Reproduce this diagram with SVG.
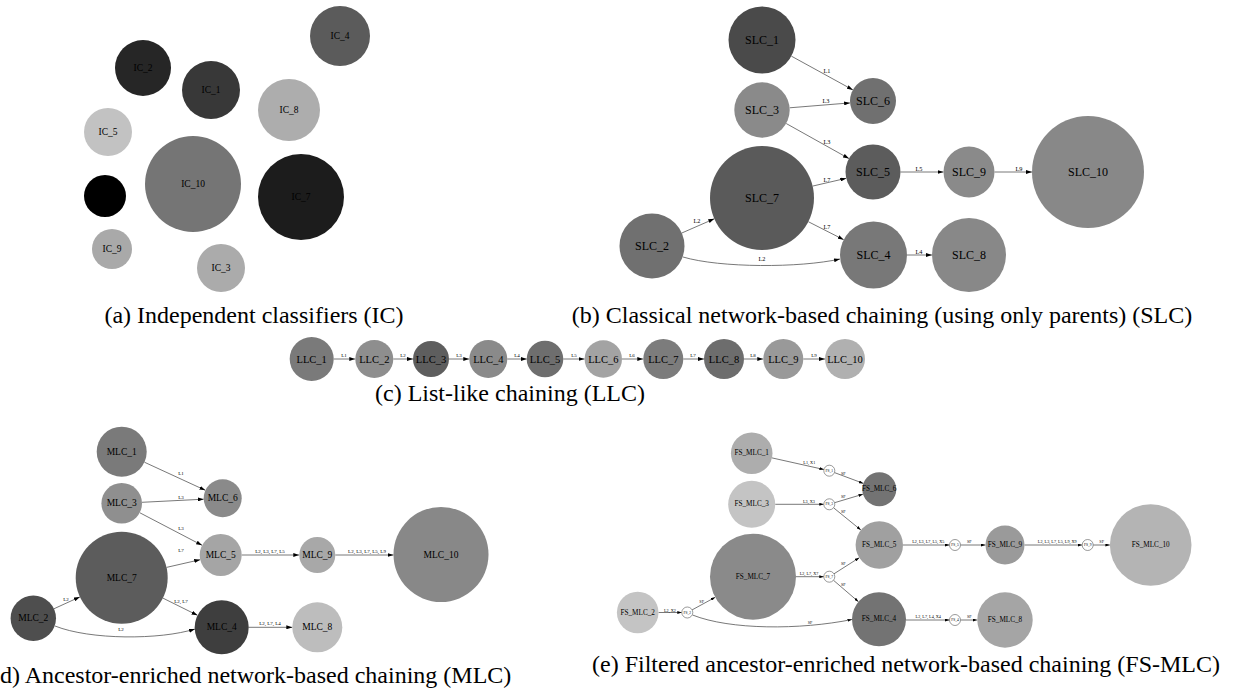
<svg xmlns="http://www.w3.org/2000/svg" width="1235" height="698" viewBox="0 0 1235 698">
  <style>
    text { font-family: "Liberation Serif", "Times New Roman", serif; fill: #000; }
    .cap { font-size: 24px; }
    .ic { font-size: 9.5px; text-anchor: middle; dominant-baseline: central; }
    .slc { font-size: 12px; text-anchor: middle; dominant-baseline: central; }
    .llc { font-size: 10.5px; text-anchor: middle; dominant-baseline: central; }
    .mlc { font-size: 9.5px; text-anchor: middle; dominant-baseline: central; }
    .fs { font-size: 7.2px; text-anchor: middle; dominant-baseline: central; }
    .fsc { font-size: 3.6px; text-anchor: middle; dominant-baseline: central; }
    .el { font-size: 6.3px; text-anchor: middle; dominant-baseline: central; }
    .els { font-size: 5px; text-anchor: middle; dominant-baseline: central; }
    .elt { font-size: 4.2px; text-anchor: middle; dominant-baseline: central; }
    .e { fill: none; stroke: #555; stroke-width: 0.8; }
    .a { marker-end: url(#arr); }
    .as { marker-end: url(#arrs); }
    .filt { fill: #fff; stroke: #555; stroke-width: 0.6; }
  </style>
  <defs>
    <marker id="arr" markerUnits="userSpaceOnUse" markerWidth="6" markerHeight="4" refX="6" refY="2" orient="auto">
      <path d="M0,0 L6,2 L0,4 z" fill="#000"/>
    </marker>
    <marker id="arrs" markerUnits="userSpaceOnUse" markerWidth="4.5" markerHeight="3" refX="4.5" refY="1.5" orient="auto">
      <path d="M0,0 L4.5,1.5 L0,3 z" fill="#000"/>
    </marker>
  </defs>
  <rect width="1235" height="698" fill="#fff"/>

  <!-- (a) independent classifiers -->
  <g id="ic">
    <g id="IC_4"><circle cx="340" cy="36" r="30" fill="#5b5b5b"/><text class="ic" x="340" y="36">IC_4</text></g>
    <g id="IC_2"><circle cx="143" cy="68" r="28" fill="#262626"/><text class="ic" x="143" y="68">IC_2</text></g>
    <g id="IC_1"><circle cx="211" cy="90" r="29" fill="#383838"/><text class="ic" x="211" y="90">IC_1</text></g>
    <g id="IC_8"><circle cx="289" cy="110" r="31" fill="#adadad"/><text class="ic" x="289" y="110">IC_8</text></g>
    <g id="IC_5"><circle cx="108" cy="132" r="24" fill="#c2c2c2"/><text class="ic" x="108" y="132">IC_5</text></g>
    <g id="IC_10"><circle cx="193" cy="184" r="48" fill="#757575"/><text class="ic" x="193" y="184">IC_10</text></g>
    <g id="IC_7"><circle cx="301" cy="197" r="43" fill="#1c1c1c"/><text class="ic" x="301" y="197">IC_7</text></g>
    <g id="IC_6"><circle cx="105" cy="196" r="21" fill="#000"/><text class="ic" x="105" y="196">IC_6</text></g>
    <g id="IC_9"><circle cx="112" cy="249" r="20" fill="#a9a9a9"/><text class="ic" x="112" y="249">IC_9</text></g>
    <g id="IC_3"><circle cx="221" cy="268" r="24" fill="#ababab"/><text class="ic" x="221" y="268">IC_3</text></g>
  </g>
  <text class="cap" x="254" y="323" text-anchor="middle">(a) Independent classifiers (IC)</text>

  <!-- (b) classical chaining -->
  <g id="slc-edges">
    <line class="e a" x1="791.3" y1="56.1" x2="852.9" y2="89.9"/>
    <line class="e a" x1="789.6" y1="107.8" x2="850.1" y2="102.9"/>
    <line class="e a" x1="786.2" y1="123.5" x2="849" y2="158.6"/>
    <line class="e a" x1="812.6" y1="186.1" x2="846.2" y2="178.3"/>
    <line class="e a" x1="808.3" y1="221.7" x2="843.7" y2="239.7"/>
    <line class="e a" x1="681.8" y1="233" x2="714.3" y2="218.8"/>
    <path class="e a" d="M683,257 C720,268 800,268 840,259"/>
    <line class="e a" x1="900.5" y1="172" x2="943.5" y2="172"/>
    <line class="e a" x1="994.5" y1="172" x2="1032" y2="172"/>
    <line class="e a" x1="907" y1="255" x2="932" y2="255"/>
    <text class="el" x="827" y="70">L1</text>
    <text class="el" x="826" y="100">L3</text>
    <text class="el" x="827" y="141">L3</text>
    <text class="el" x="827" y="179">L7</text>
    <text class="el" x="827" y="226">L7</text>
    <text class="el" x="697" y="220">L2</text>
    <text class="el" x="762" y="258">L2</text>
    <text class="el" x="919" y="168">L5</text>
    <text class="el" x="1019" y="168">L9</text>
    <text class="el" x="919" y="251">L4</text>
  </g>
  <g id="SLC_1"><circle cx="762" cy="40" r="33.5" fill="#4a4a4a"/><text class="slc" x="762" y="40">SLC_1</text></g>
  <g id="SLC_6"><circle cx="873" cy="101" r="23" fill="#707070"/><text class="slc" x="873" y="101">SLC_6</text></g>
  <g id="SLC_3"><circle cx="762" cy="110" r="27.7" fill="#8a8a8a"/><text class="slc" x="762" y="110">SLC_3</text></g>
  <g id="SLC_5"><circle cx="873" cy="172" r="27.5" fill="#5c5c5c"/><text class="slc" x="873" y="172">SLC_5</text></g>
  <g id="SLC_7"><circle cx="762" cy="198" r="52" fill="#5a5a5a"/><text class="slc" x="762" y="198">SLC_7</text></g>
  <g id="SLC_2"><circle cx="652" cy="246" r="32.5" fill="#707070"/><text class="slc" x="652" y="246">SLC_2</text></g>
  <g id="SLC_4"><circle cx="873.5" cy="255" r="33.5" fill="#787878"/><text class="slc" x="873.5" y="255">SLC_4</text></g>
  <g id="SLC_9"><circle cx="969" cy="172" r="25.5" fill="#8a8a8a"/><text class="slc" x="969" y="172">SLC_9</text></g>
  <g id="SLC_10"><circle cx="1088" cy="172" r="56" fill="#888"/><text class="slc" x="1088" y="172">SLC_10</text></g>
  <g id="SLC_8"><circle cx="969" cy="255" r="37" fill="#888"/><text class="slc" x="969" y="255">SLC_8</text></g>
  <text class="cap" x="882" y="323" text-anchor="middle">(b) Classical network-based chaining (using only parents) (SLC)</text>

  <!-- (c) list-like chaining -->
  <g id="llc-edges">
    <line class="e a" x1="333.7" y1="359" x2="355.3" y2="359"/>
    <line class="e a" x1="393.3" y1="359" x2="413" y2="359"/>
    <line class="e a" x1="449" y1="359" x2="469.3" y2="359"/>
    <line class="e a" x1="507.3" y1="359" x2="526.7" y2="359"/>
    <line class="e a" x1="563.3" y1="359" x2="584.6" y2="359"/>
    <line class="e a" x1="622" y1="359" x2="643.3" y2="359"/>
    <line class="e a" x1="683.3" y1="359" x2="704" y2="359"/>
    <line class="e a" x1="744" y1="359" x2="763.3" y2="359"/>
    <line class="e a" x1="803.3" y1="359" x2="825" y2="359"/>
    <text class="els" x="344" y="355">L1</text>
    <text class="els" x="403" y="355">L2</text>
    <text class="els" x="459" y="355">L3</text>
    <text class="els" x="517" y="355">L4</text>
    <text class="els" x="574" y="355">L5</text>
    <text class="els" x="632" y="355">L6</text>
    <text class="els" x="693" y="355">L7</text>
    <text class="els" x="753" y="355">L8</text>
    <text class="els" x="814" y="355">L9</text>
  </g>
  <g id="LLC_1"><circle cx="311.7" cy="359" r="22" fill="#7a7a7a"/><text class="llc" x="311.7" y="359">LLC_1</text></g>
  <g id="LLC_2"><circle cx="374.3" cy="359" r="19" fill="#8e8e8e"/><text class="llc" x="374.3" y="359">LLC_2</text></g>
  <g id="LLC_3"><circle cx="431" cy="359" r="18" fill="#5e5e5e"/><text class="llc" x="431" y="359">LLC_3</text></g>
  <g id="LLC_4"><circle cx="488.3" cy="359" r="19" fill="#8a8a8a"/><text class="llc" x="488.3" y="359">LLC_4</text></g>
  <g id="LLC_5"><circle cx="545" cy="359" r="18.3" fill="#6e6e6e"/><text class="llc" x="545" y="359">LLC_5</text></g>
  <g id="LLC_6"><circle cx="603.3" cy="359" r="18.7" fill="#a3a3a3"/><text class="llc" x="603.3" y="359">LLC_6</text></g>
  <g id="LLC_7"><circle cx="663.3" cy="359" r="20" fill="#7c7c7c"/><text class="llc" x="663.3" y="359">LLC_7</text></g>
  <g id="LLC_8"><circle cx="724" cy="359" r="20" fill="#6d6d6d"/><text class="llc" x="724" y="359">LLC_8</text></g>
  <g id="LLC_9"><circle cx="783.3" cy="359" r="20" fill="#999"/><text class="llc" x="783.3" y="359">LLC_9</text></g>
  <g id="LLC_10"><circle cx="845" cy="359" r="20" fill="#b0b0b0"/><text class="llc" x="845" y="359">LLC_10</text></g>
  <text class="cap" x="510" y="401" text-anchor="middle">(c) List-like chaining (LLC)</text>

  <!-- (d) ancestor-enriched chaining -->
  <g id="mlc-edges">
    <line class="e a" x1="144.4" y1="462.2" x2="205.4" y2="490.3"/>
    <line class="e a" x1="142" y1="502.3" x2="203.7" y2="499.2"/>
    <line class="e a" x1="139.7" y1="512.7" x2="202.1" y2="545.3"/>
    <line class="e a" x1="166.5" y1="567.4" x2="200.2" y2="559.7"/>
    <line class="e a" x1="162.9" y1="598.1" x2="197.5" y2="615.3"/>
    <line class="e a" x1="53.9" y1="608.8" x2="79.9" y2="596.9"/>
    <path class="e a" d="M55,626 C90,640 160,640 195,629"/>
    <line class="e a" x1="241.7" y1="555" x2="299.3" y2="555"/>
    <line class="e a" x1="335.3" y1="555" x2="393.5" y2="555"/>
    <line class="e a" x1="248.7" y1="627.3" x2="292.3" y2="627.3"/>
    <text class="els" x="181" y="473">L1</text>
    <text class="els" x="181" y="497">L3</text>
    <text class="els" x="181" y="528">L3</text>
    <text class="els" x="181" y="550">L7</text>
    <text class="els" x="181" y="601">L2, L7</text>
    <text class="els" x="66" y="599">L2</text>
    <text class="els" x="121" y="629">L2</text>
    <text class="els" x="270" y="551">L2, L3, L7, L5</text>
    <text class="els" x="367" y="551.5">L2, L3, L7, L5, L9</text>
    <text class="els" x="270" y="623">L2, L7, L4</text>
  </g>
  <g id="MLC_1"><circle cx="121.7" cy="451.7" r="25" fill="#7a7a7a"/><text class="mlc" x="121.7" y="451.7">MLC_1</text></g>
  <g id="MLC_6"><circle cx="222.7" cy="498.3" r="19" fill="#8a8a8a"/><text class="mlc" x="222.7" y="498.3">MLC_6</text></g>
  <g id="MLC_3"><circle cx="121.7" cy="503.3" r="20.3" fill="#8f8f8f"/><text class="mlc" x="121.7" y="503.3">MLC_3</text></g>
  <g id="MLC_5"><circle cx="220.7" cy="555" r="21" fill="#a5a5a5"/><text class="mlc" x="220.7" y="555">MLC_5</text></g>
  <g id="MLC_7"><circle cx="121.7" cy="577.7" r="46" fill="#5c5c5c"/><text class="mlc" x="121.7" y="577.7">MLC_7</text></g>
  <g id="MLC_2"><circle cx="33.3" cy="618.3" r="22.7" fill="#4e4e4e"/><text class="mlc" x="33.3" y="618.3">MLC_2</text></g>
  <g id="MLC_4"><circle cx="221.7" cy="627.3" r="27" fill="#3e3e3e"/><text class="mlc" x="221.7" y="627.3">MLC_4</text></g>
  <g id="MLC_9"><circle cx="317.3" cy="555" r="18" fill="#a8a8a8"/><text class="mlc" x="317.3" y="555">MLC_9</text></g>
  <g id="MLC_10"><circle cx="441" cy="554.5" r="47.5" fill="#888"/><text class="mlc" x="441" y="554.5">MLC_10</text></g>
  <g id="MLC_8"><circle cx="317.3" cy="627.3" r="25" fill="#bdbdbd"/><text class="mlc" x="317.3" y="627.3">MLC_8</text></g>
  <text class="cap" x="-8" y="683">(d) Ancestor-enriched network-based chaining (MLC)</text>

  <!-- (e) filtered ancestor-enriched chaining -->
  <g id="fs-edges">
    <line class="e as" x1="772" y1="457.9" x2="823.9" y2="469.5"/>
    <line class="e as" x1="834.5" y1="472.6" x2="863.4" y2="483.4"/>
    <line class="e as" x1="775.2" y1="504.3" x2="823.8" y2="504.3"/>
    <line class="e as" x1="834.6" y1="502.7" x2="863" y2="494.2"/>
    <line class="e as" x1="833.6" y1="507.8" x2="860.9" y2="530"/>
    <line class="e as" x1="796" y1="576.7" x2="823.8" y2="576.7"/>
    <line class="e as" x1="834" y1="573.8" x2="859.3" y2="557.7"/>
    <line class="e as" x1="833.5" y1="580.3" x2="858.5" y2="601.8"/>
    <line class="e as" x1="658.5" y1="612.5" x2="681.8" y2="612.5"/>
    <line class="e as" x1="692.1" y1="609.9" x2="715.2" y2="597.3"/>
    <path class="e as" d="M692.5,615 C730,630 800,630 852,619.5"/>
    <line class="e as" x1="903" y1="545" x2="949.5" y2="545"/>
    <line class="e as" x1="960.5" y1="545" x2="985.5" y2="545"/>
    <line class="e as" x1="1024.5" y1="545" x2="1082.2" y2="545"/>
    <line class="e as" x1="1093.2" y1="545" x2="1109.9" y2="545"/>
    <line class="e as" x1="906" y1="620" x2="949.5" y2="620"/>
    <line class="e as" x1="960.5" y1="620" x2="977.3" y2="620"/>
    <text class="elt" x="809.3" y="462.7">L1, X1</text>
    <text class="elt" x="843.3" y="473.3">SF</text>
    <text class="elt" x="809" y="501">L3, X3</text>
    <text class="elt" x="843.3" y="496.7">SF</text>
    <text class="elt" x="843.3" y="511.7">SF</text>
    <text class="elt" x="809" y="573.3">L2, L7, X7</text>
    <text class="elt" x="843.3" y="563.7">SF</text>
    <text class="elt" x="843.3" y="584">SF</text>
    <text class="elt" x="670" y="610">L2, X2</text>
    <text class="elt" x="701.7" y="601.7">SF</text>
    <text class="elt" x="810" y="622.7">SF</text>
    <text class="elt" x="928.3" y="541.7">L2, L3, L7, L5, X5</text>
    <text class="elt" x="969.3" y="541.7">SF</text>
    <text class="elt" x="1057.3" y="541.7">L2, L3, L7, L5, L9, X9</text>
    <text class="elt" x="1101.7" y="541.7">SF</text>
    <text class="elt" x="928.3" y="616.7">L2, L7, L4, X4</text>
    <text class="elt" x="969.3" y="616.7">SF</text>
  </g>
  <g id="FS_MLC_1"><circle cx="751.7" cy="453.3" r="20.8" fill="#adadad"/><text class="fs" x="751.7" y="453.3">FS_MLC_1</text></g>
  <g id="FS_MLC_3"><circle cx="751.7" cy="504.3" r="23.5" fill="#c4c4c4"/><text class="fs" x="751.7" y="504.3">FS_MLC_3</text></g>
  <g id="FS_MLC_7"><circle cx="753" cy="576.7" r="43" fill="#8a8a8a"/><text class="fs" x="753" y="576.7">FS_MLC_7</text></g>
  <g id="FS_MLC_2"><circle cx="637.7" cy="612.5" r="20.8" fill="#c4c4c4"/><text class="fs" x="637.7" y="612.5">FS_MLC_2</text></g>
  <g id="FS_MLC_6"><circle cx="879.3" cy="489.3" r="17" fill="#737373"/><text class="fs" x="879.3" y="489.3">FS_MLC_6</text></g>
  <g id="FS_MLC_5"><circle cx="879.3" cy="545" r="23.7" fill="#a0a0a0"/><text class="fs" x="879.3" y="545">FS_MLC_5</text></g>
  <g id="FS_MLC_4"><circle cx="879" cy="619.3" r="27" fill="#737373"/><text class="fs" x="879" y="619.3">FS_MLC_4</text></g>
  <g id="FS_MLC_9"><circle cx="1005" cy="545" r="19.5" fill="#9a9a9a"/><text class="fs" x="1005" y="545">FS_MLC_9</text></g>
  <g id="FS_MLC_10"><circle cx="1150.7" cy="545" r="40.8" fill="#b4b4b4"/><text class="fs" x="1150.7" y="545">FS_MLC_10</text></g>
  <g id="FS_MLC_8"><circle cx="1005" cy="620" r="27.7" fill="#a5a5a5"/><text class="fs" x="1005" y="620">FS_MLC_8</text></g>
  <g id="FS_1"><circle class="filt" cx="829.3" cy="470.7" r="5.5"/><text class="fsc" x="829.3" y="470.7">FS_1</text></g>
  <g id="FS_3"><circle class="filt" cx="829.3" cy="504.3" r="5.5"/><text class="fsc" x="829.3" y="504.3">FS_3</text></g>
  <g id="FS_7"><circle class="filt" cx="829.3" cy="576.7" r="5.5"/><text class="fsc" x="829.3" y="576.7">FS_7</text></g>
  <g id="FS_2"><circle class="filt" cx="687.3" cy="612.5" r="5.5"/><text class="fsc" x="687.3" y="612.5">FS_2</text></g>
  <g id="FS_5"><circle class="filt" cx="955" cy="545" r="5.5"/><text class="fsc" x="955" y="545">FS_5</text></g>
  <g id="FS_9"><circle class="filt" cx="1087.7" cy="545" r="5.5"/><text class="fsc" x="1087.7" y="545">FS_9</text></g>
  <g id="FS_4"><circle class="filt" cx="955" cy="620" r="5.5"/><text class="fsc" x="955" y="620">FS_4</text></g>
  <text class="cap" x="592" y="672">(e) Filtered ancestor-enriched network-based chaining (FS-MLC)</text>
</svg>
